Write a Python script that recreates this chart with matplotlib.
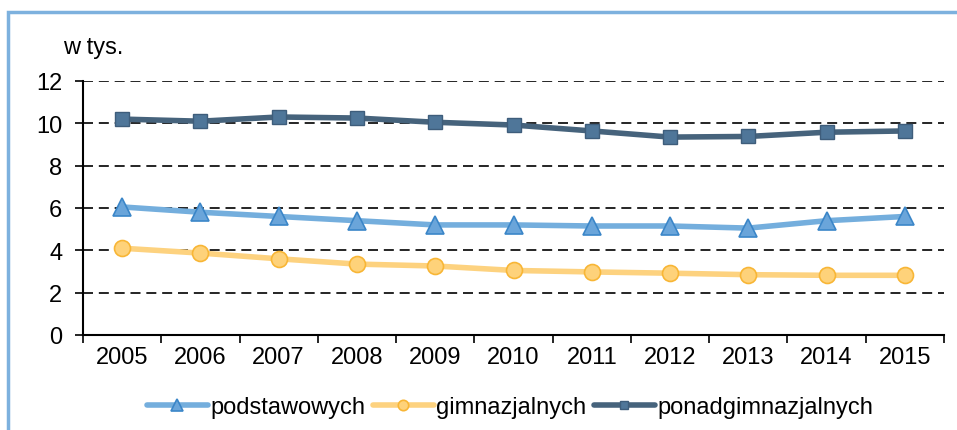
import matplotlib
matplotlib.use("Agg")
import matplotlib.pyplot as plt
from matplotlib.patches import Rectangle

plt.rcParams['font.family'] = ['Liberation Sans', 'DejaVu Sans']

years = ["2005", "2006", "2007", "2008", "2009", "2010", "2011", "2012", "2013", "2014", "2015"]
podstawowych = [6.05, 5.8, 5.6, 5.4, 5.2, 5.2, 5.15, 5.15, 5.05, 5.4, 5.6]
gimnazjalnych = [4.1, 3.87, 3.6, 3.35, 3.26, 3.05, 2.98, 2.92, 2.85, 2.82, 2.82]
ponadgimnazjalnych = [10.2, 10.1, 10.3, 10.25, 10.05, 9.92, 9.64, 9.35, 9.38, 9.58, 9.64]
series_names = ["podstawowych", "gimnazjalnych", "ponadgimnazjalnych"]
yticks = [0, 2, 4, 6, 8, 10, 12]

FS = 17

fig = plt.figure(figsize=(9.57, 4.31), dpi=100)
ax = fig.add_axes([83/957, 1-336/431, (944-83)/957, (336-82)/431])

x = list(range(len(years)))
ax.plot(x, podstawowych, color='#74aedd', lw=4, marker='^', ms=13,
        mfc='#6aa5da', mec='#3b86c8', mew=1.2, label=series_names[0], solid_capstyle='round', zorder=3)
ax.plot(x, gimnazjalnych, color='#fdd27f', lw=4, marker='o', ms=11.5,
        mfc='#fed27a', mec='#f8b636', mew=1.2, label=series_names[1], solid_capstyle='round', zorder=3)
ax.plot(x, ponadgimnazjalnych, color='#46637c', lw=4, marker='s', ms=9.5,
        mfc='#4f7699', mec='#3e5d7b', mew=1.0, label=series_names[2], solid_capstyle='round', zorder=3)

ax.set_xlim(-0.5, len(years)-0.5)
ax.set_ylim(0, 12)
ax.set_yticks(yticks)
ax.set_yticklabels([str(v) for v in yticks], fontsize=FS)
ax.set_xticks(x)
ax.set_xticklabels(years, fontsize=FS)
ax.set_xticks([i - 0.5 for i in range(len(years)+1)], minor=True)
ax.tick_params(axis='x', which='major', length=0, pad=8)
ax.tick_params(axis='x', which='minor', length=6, width=1.2, direction='out')
ax.tick_params(axis='y', length=6, width=1.2, direction='out', pad=9)

for v in yticks[1:]:
    ax.axhline(v, color='black', lw=1.2, ls=(0, (6, 3.5)), zorder=1)

for s in ['top', 'right']:
    ax.spines[s].set_visible(False)
for s in ['left', 'bottom']:
    ax.spines[s].set_linewidth(1.5)
    ax.spines[s].set_color('black')

fig.text(63/957, 1-48/431, "w tys.", fontsize=FS, va='center', ha='left')

leg = fig.legend(loc='center', bbox_to_anchor=(510/957, 1-408/431), ncol=3, frameon=False,
                 fontsize=FS, handlelength=2.6, handletextpad=0.1, columnspacing=0.3, numpoints=1,
                 markerscale=0.65)

fig.patches.append(Rectangle((8/957, -0.2), 1.2, 1 - 13/431 + 0.2, transform=fig.transFigure,
                             fill=False, edgecolor='#7db1de', lw=2.5, zorder=0))

fig.savefig("out.png", dpi=100)
